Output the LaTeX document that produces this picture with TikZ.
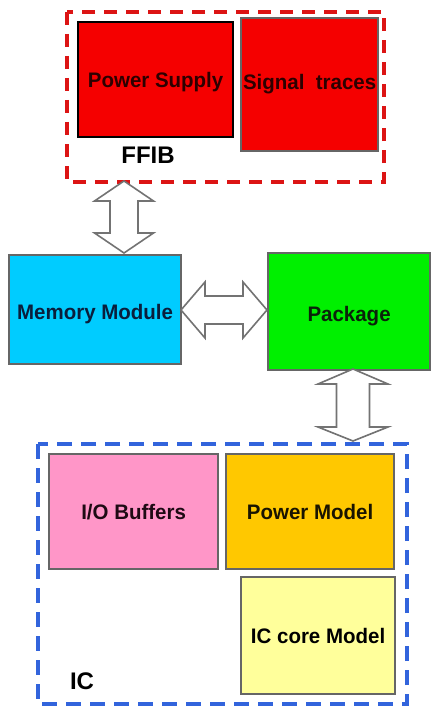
\documentclass[tikz,border=0pt]{standalone}
\usepackage{fontspec}
\setmainfont{Liberation Sans}
\newfontfamily\boxfont[FakeStretch=0.975]{Liberation Sans}
\newcommand{\lowertext}[2]{\raisebox{-#1}[\height][\depth]{#2}}
\begin{document}
\begin{tikzpicture}[x=1pt,y=-1pt,
  box/.style={draw=black!60, line width=2.2pt, anchor=north west, inner sep=0pt,
    font=\boxfont\bfseries\fontsize{21}{23}\selectfont, align=center},
  group/.style={line width=3.5pt, dash pattern=on 13pt off 9pt},
  blockarrow/.style={draw=black!55, line width=1.6pt, fill=white, line join=miter},
  grouplabel/.style={font=\bfseries\fontsize{24}{26}\selectfont, text=black, inner sep=0pt}]
\useasboundingbox (0,0) rectangle (431,706);
\fill[white] (0,0) rectangle (431,706);

% FFIB group
\draw[group, draw={rgb,255:red,220;green,20;blue,20}] (67,12) rectangle (384,182);
\node[box, draw=black, fill={rgb,255:red,245;green,0;blue,0}, text={rgb,255:red,45;green,0;blue,0},
  minimum width=155pt, minimum height=115pt] (ps) at (77,21) {\lowertext{2pt}{Power Supply}};
\node[box, draw=black!60, fill={rgb,255:red,245;green,0;blue,0}, text={rgb,255:red,45;green,0;blue,0},
  minimum width=137pt, minimum height=133pt] (st) at (240,17) {Signal\ \ traces};
\node[grouplabel] (ffib) at (148,155) {FFIB};

% Middle
\node[box, fill={rgb,255:red,0;green,204;blue,255}, text={rgb,255:red,10;green,30;blue,60},
  minimum width=172pt, minimum height=109pt] (mem) at (8,254) {\lowertext{4pt}{Memory Module}};
\node[box, fill={rgb,255:red,0;green,240;blue,0}, text={rgb,255:red,10;green,35;blue,10},
  minimum width=162pt, minimum height=117pt] (pkg) at (267,252) {\lowertext{5pt}{Package}};

% IC group
\draw[group, dash pattern=on 15pt off 9pt, draw={rgb,255:red,50;green,100;blue,220}] (38,444) rectangle (407,704);
\node[box, fill={rgb,255:red,255;green,150;blue,200}, text={rgb,255:red,30;green,10;blue,20},
  minimum width=169pt, minimum height=115pt] (io) at (48,453) {I/O Buffers};
\node[box, fill={rgb,255:red,255;green,200;blue,0}, text={rgb,255:red,25;green,20;blue,0},
  minimum width=168pt, minimum height=115pt] (pm) at (225,453) {Power Model};
\node[box, fill={rgb,255:red,255;green,255;blue,155}, text=black,
  minimum width=154pt, minimum height=117pt] (core) at (240,576) {IC core Model};
\node[grouplabel] (ic) at (82,681) {IC};

% block arrows
\draw[blockarrow] (124,181) -- (153.5,201) -- (138,201) -- (138,233) -- (153.5,233) -- (124,253)
  -- (94.5,233) -- (110,233) -- (110,201) -- (94.5,201) -- cycle;
\draw[blockarrow] (181,310) -- (205,282) -- (205,296) -- (243,296) -- (243,282) -- (267,310)
  -- (243,338) -- (243,324) -- (205,324) -- (205,338) -- cycle;
\draw[blockarrow] (353,369) -- (388,384) -- (369.5,384) -- (369.5,427) -- (388,427) -- (353,441)
  -- (318,427) -- (336.5,427) -- (336.5,384) -- (318,384) -- cycle;
\end{tikzpicture}
\end{document}
